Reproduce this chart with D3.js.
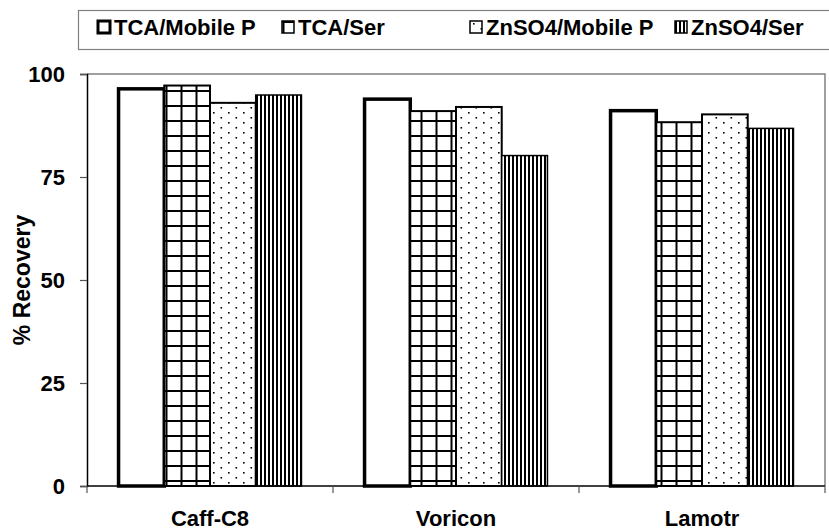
<!DOCTYPE html>
<html>
<head>
<meta charset="utf-8">
<script src="https://cdn.jsdelivr.net/npm/d3@7"></script>
<style>
  html, body { margin: 0; padding: 0; background: #fff; }
  svg { display: block; font-family: "Liberation Sans", Arial, sans-serif; font-weight: bold; }
</style>
</head>
<body>
<svg id="chart" width="829" height="531"></svg>
<script>
// Recovery data per compound and precipitation method
const categories = ["Caff-C8", "Voricon", "Lamotr"];
const seriesNames = ["TCA/Mobile P", "TCA/Ser", "ZnSO4/Mobile P", "ZnSO4/Ser"];
const tcaMobile = [96.4, 93.9, 91.1];
const tcaSer = [97.2, 91.0, 88.3];
const znMobile = [93.0, 92.0, 90.2];
const znSer = [94.9, 80.2, 86.8];
const yTicks = [0, 25, 50, 75, 100];
const yLabel = "% Recovery";

const seriesValues = [tcaMobile, tcaSer, znMobile, znSer];

const svg = d3.select("#chart");
const plot = { left: 87, top: 74, right: 825, bottom: 486 };

// Fill patterns for the four series
const defs = svg.append("defs");
const grid = defs.append("pattern").attr("id", "pGrid")
  .attr("patternUnits", "userSpaceOnUse").attr("width", 15).attr("height", 15)
  .attr("x", 0.5).attr("y", 0);
grid.append("rect").attr("width", 15).attr("height", 15).attr("fill", "#fff");
grid.append("path").attr("d", "M0,1 H15 M1,0 V15").attr("stroke", "#000").attr("stroke-width", 2);

const dots = defs.append("pattern").attr("id", "pDots")
  .attr("patternUnits", "userSpaceOnUse").attr("width", 15).attr("height", 10);
dots.append("rect").attr("width", 15).attr("height", 10).attr("fill", "#fff");
dots.append("rect").attr("x", 3).attr("y", 2).attr("width", 1.6).attr("height", 1.6).attr("fill", "#000");
dots.append("rect").attr("x", 10.5).attr("y", 7).attr("width", 1.6).attr("height", 1.6).attr("fill", "#000");

const stripes = defs.append("pattern").attr("id", "pStripes")
  .attr("patternUnits", "userSpaceOnUse").attr("width", 4).attr("height", 4);
stripes.append("rect").attr("width", 4).attr("height", 4).attr("fill", "#fff");
stripes.append("rect").attr("x", 0).attr("width", 2).attr("height", 4).attr("fill", "#000");

const styles = [
  { fill: "#fff", sw: 3.5 },
  { fill: "url(#pGrid)", sw: 2 },
  { fill: "url(#pDots)", sw: 2 },
  { fill: "url(#pStripes)", sw: 1.5 }
];

// Scales
const x0 = d3.scaleBand().domain(categories).range([plot.left, plot.right]).padding(0);
const x1 = d3.scaleBand().domain(seriesNames).range([0, x0.bandwidth()])
  .paddingInner(0).paddingOuter(0.69);
const y = d3.scaleLinear().domain([0, 100]).range([plot.bottom, plot.top]);

// Plot frame (top and right in grey)
svg.append("path")
  .attr("d", `M${plot.left},${plot.top} H${plot.right} V${plot.bottom}`)
  .attr("fill", "none").attr("stroke", "#808080").attr("stroke-width", 1.5);

// Bars
seriesNames.forEach((s, si) => {
  svg.append("g").selectAll("rect")
    .data(categories.map((c, ci) => ({ c, v: seriesValues[si][ci] })))
    .join("rect")
    .attr("x", d => x0(d.c) + x1(s))
    .attr("width", x1.bandwidth())
    .attr("y", d => y(d.v))
    .attr("height", d => y(0) - y(d.v))
    .attr("fill", styles[si].fill)
    .attr("stroke", "#000")
    .attr("stroke-width", styles[si].sw);
});

// Y axis
const yAxis = svg.append("g")
  .attr("transform", `translate(${plot.left},0)`)
  .call(d3.axisLeft(y).tickValues(yTicks).tickSize(7).tickPadding(15));
yAxis.select(".domain").attr("stroke", "#000").attr("stroke-width", 1.5);
yAxis.selectAll(".tick line").attr("stroke", "#555").attr("stroke-width", 1.2);
yAxis.selectAll("text").attr("font-size", 22).attr("font-weight", "bold")
  .attr("font-family", "Liberation Sans, Arial, sans-serif").attr("fill", "#000");

// X axis with ticks on group boundaries
const xAxis = svg.append("g").attr("transform", `translate(0,${plot.bottom})`);
xAxis.append("line").attr("x1", plot.left).attr("x2", plot.right)
  .attr("stroke", "#000").attr("stroke-width", 1.5);
const bounds = categories.map(c => x0(c)).concat([x0(categories[categories.length - 1]) + x0.bandwidth()]);
xAxis.selectAll("line.tk").data(bounds).join("line").attr("class", "tk")
  .attr("x1", d => d).attr("x2", d => d).attr("y1", 0).attr("y2", 7)
  .attr("stroke", "#555").attr("stroke-width", 1.2);
xAxis.selectAll("text").data(categories).join("text")
  .attr("x", d => x0(d) + x0.bandwidth() / 2)
  .attr("y", 40)
  .attr("text-anchor", "middle")
  .attr("font-size", 22)
  .text(d => d);

// Y axis title
svg.append("text")
  .attr("transform", `translate(30,${(plot.top + plot.bottom) / 2}) rotate(-90)`)
  .attr("text-anchor", "middle")
  .attr("font-size", 23)
  .text(yLabel);

// Legend
const legend = svg.append("g");
legend.append("rect").attr("x", 78.5).attr("y", 10.5).attr("width", 760).attr("height", 39)
  .attr("fill", "#fff").attr("stroke", "#808080").attr("stroke-width", 1.2);
const legendX = [98, 282, 470, 675];
seriesNames.forEach((s, i) => {
  const g = legend.append("g").attr("transform", `translate(${legendX[i]},21)`);
  g.append("rect").attr("width", 12).attr("height", 12)
    .attr("fill", styles[i].fill).attr("stroke", "#000")
    .attr("stroke-width", i === 0 ? 3 : 1.5);
  g.append("text").attr("x", 16).attr("y", 14).attr("font-size", 22).text(s);
});
</script>
</body>
</html>
